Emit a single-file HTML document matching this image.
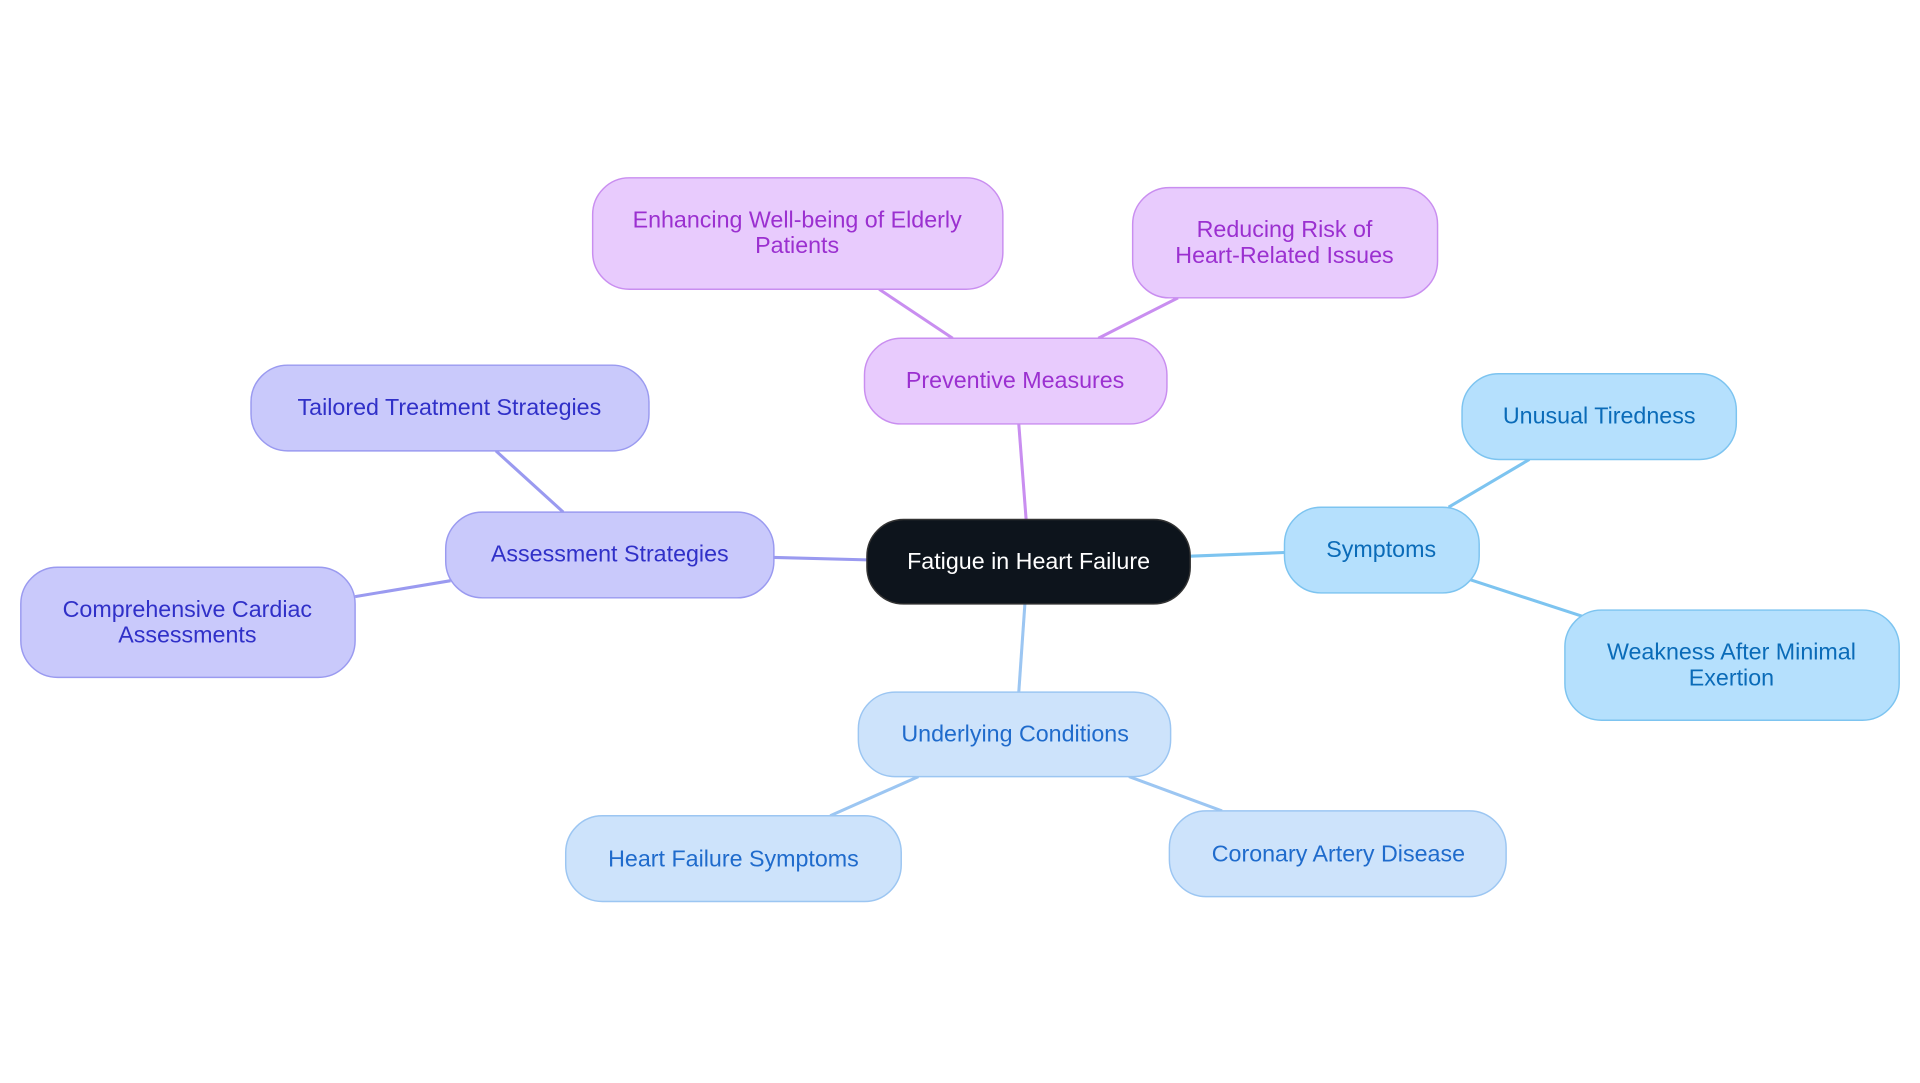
<!DOCTYPE html>
<html><head><meta charset="utf-8"><style>
html,body{margin:0;padding:0;background:#fff;width:1920px;height:1083px;overflow:hidden}
svg{display:block}
text{font-family:"Liberation Sans",sans-serif;font-size:19px;text-anchor:middle;dominant-baseline:central}
</style></head><body>
<svg width="1920" height="1083" viewBox="0 0 1568 884" xmlns="http://www.w3.org/2000/svg">
<g stroke-width="2.5" fill="none">
<line x1="838" y1="424" x2="832" y2="346" stroke="#c98ef0"/>
<line x1="778" y1="276" x2="718" y2="236" stroke="#c98ef0"/>
<line x1="897" y1="276" x2="962" y2="243" stroke="#c98ef0"/>
<line x1="708" y1="457" x2="632" y2="455" stroke="#9a9af0"/>
<line x1="460" y1="418" x2="405" y2="368" stroke="#9a9af0"/>
<line x1="368" y1="474" x2="290" y2="487" stroke="#9a9af0"/>
<line x1="972" y1="454" x2="1049" y2="451" stroke="#7dc4f0"/>
<line x1="1183" y1="414" x2="1249" y2="375" stroke="#7dc4f0"/>
<line x1="1200" y1="473" x2="1292" y2="503" stroke="#7dc4f0"/>
<line x1="837" y1="493" x2="832" y2="565" stroke="#9cc6f2"/>
<line x1="750" y1="634" x2="678" y2="666" stroke="#9cc6f2"/>
<line x1="922" y1="634" x2="998" y2="662" stroke="#9cc6f2"/>
</g>
<g stroke-width="1.2">
<rect x="708" y="424" width="264" height="69" rx="30" fill="#0d141c" stroke="#333"/>
<rect x="706" y="276" width="247" height="70" rx="30" fill="#e8cbfd" stroke="#c98ef0"/>
<rect x="484" y="145" width="335" height="91" rx="30" fill="#e8cbfd" stroke="#c98ef0"/>
<rect x="925" y="153" width="249" height="90" rx="30" fill="#e8cbfd" stroke="#c98ef0"/>
<rect x="364" y="418" width="268" height="70" rx="30" fill="#c9c9fb" stroke="#9a9af0"/>
<rect x="205" y="298" width="325" height="70" rx="30" fill="#c9c9fb" stroke="#9a9af0"/>
<rect x="17" y="463" width="273" height="90" rx="30" fill="#c9c9fb" stroke="#9a9af0"/>
<rect x="1049" y="414" width="159" height="70" rx="30" fill="#b5e0fd" stroke="#7dc4f0"/>
<rect x="1194" y="305" width="224" height="70" rx="30" fill="#b5e0fd" stroke="#7dc4f0"/>
<rect x="1278" y="498" width="273" height="90" rx="30" fill="#b5e0fd" stroke="#7dc4f0"/>
<rect x="701" y="565" width="255" height="69" rx="30" fill="#cde3fb" stroke="#9cc6f2"/>
<rect x="462" y="666" width="274" height="70" rx="30" fill="#cde3fb" stroke="#9cc6f2"/>
<rect x="955" y="662" width="275" height="70" rx="30" fill="#cde3fb" stroke="#9cc6f2"/>
</g>
<text x="840" y="458" fill="#fff">Fatigue in Heart Failure</text>
<g fill="#9b30d0">
<text x="829" y="310">Preventive Measures</text>
<text x="651" y="179">Enhancing Well-being of Elderly</text>
<text x="651" y="200">Patients</text>
<text x="1049" y="187">Reducing Risk of</text>
<text x="1049" y="208">Heart-Related Issues</text>
</g>
<g fill="#3030c8">
<text x="498" y="452">Assessment Strategies</text>
<text x="367" y="332">Tailored Treatment Strategies</text>
<text x="153" y="497">Comprehensive Cardiac</text>
<text x="153" y="518">Assessments</text>
</g>
<g fill="#0a6bb8">
<text x="1128" y="448">Symptoms</text>
<text x="1306" y="339">Unusual Tiredness</text>
<text x="1414" y="532">Weakness After Minimal</text>
<text x="1414" y="553">Exertion</text>
</g>
<g fill="#1f6bcc">
<text x="829" y="599">Underlying Conditions</text>
<text x="599" y="701">Heart Failure Symptoms</text>
<text x="1093" y="697">Coronary Artery Disease</text>
</g>
</svg>
</body></html>
